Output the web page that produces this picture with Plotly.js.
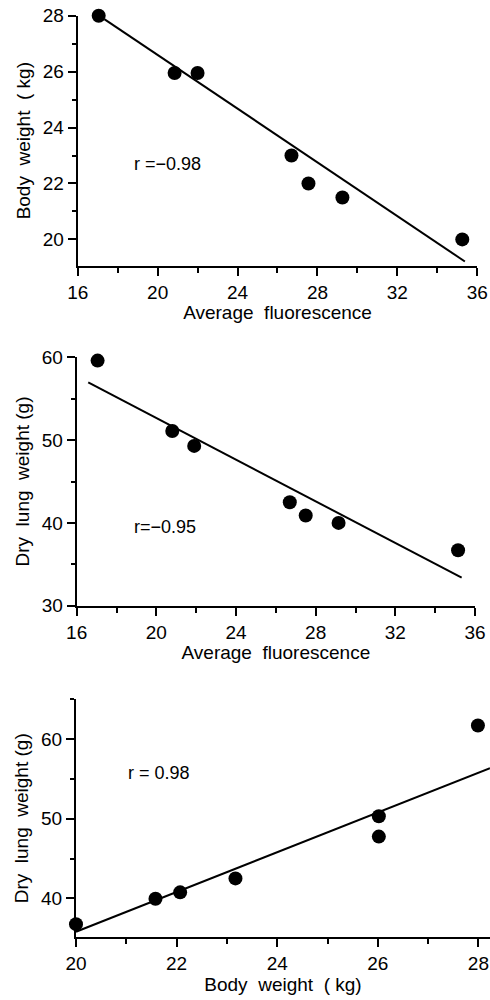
<!DOCTYPE html>
<html>
<head>
<meta charset="utf-8">
<script src="https://cdn.plot.ly/plotly-3.0.1.min.js"></script>
<style>html,body{margin:0;padding:0;background:#fff;}#chart{width:490px;height:1000px;}</style>
</head>
<body>
<div id="chart"></div>
<script>
// Panel 1: body weight vs average fluorescence
const fluor1 = [17.05, 20.85, 22.0, 26.7, 27.55, 29.25, 35.25];
const bodyWeight1 = [28.0, 25.95, 25.95, 23.0, 22.0, 21.5, 20.0];
const fit1X = [17.33, 35.38];
const fit1Y = [27.88, 19.21];

// Panel 2: dry lung weight vs average fluorescence
const fluor2 = [17.05, 20.8, 21.9, 26.7, 27.5, 29.15, 35.15];
const lungWeight2 = [59.6, 51.1, 49.3, 42.5, 40.9, 40.0, 36.7];
const fit2X = [16.58, 35.33];
const fit2Y = [56.98, 33.38];

// Panel 3: dry lung weight vs body weight
const bodyWeight3 = [20.0, 21.58, 22.07, 23.17, 26.02, 26.02, 27.99];
const lungWeight3 = [36.75, 39.95, 40.75, 42.5, 50.3, 47.75, 61.7];
const fit3X = [20.0, 28.23];
const fit3Y = [35.8, 56.35];

const rLabels = ["r =\u22120.98", "r=\u22120.95", "r = 0.98"];
const xTitles = ["Average  fluorescence", "Average  fluorescence", "Body  weight  ( kg)"];
const yTitles = ["Body  weight  ( kg)", "Dry  lung  weight (g)", "Dry  lung  weight (g)"];

const FONT = "Liberation Sans, Arial, sans-serif";
const ink = "#000";

function pts(x, y, xa, ya) {
  return {x: x, y: y, xaxis: xa, yaxis: ya, type: "scatter", mode: "markers",
    cliponaxis: false, marker: {color: ink, size: 14}, showlegend: false, hoverinfo: "skip"};
}
function fit(x, y, xa, ya) {
  return {x: x, y: y, xaxis: xa, yaxis: ya, type: "scatter", mode: "lines",
    line: {color: ink, width: 2}, showlegend: false, hoverinfo: "skip"};
}
function xax(dom, range, dtick, mdtick, title, anchor) {
  return {domain: dom, range: range, anchor: anchor, dtick: dtick, tick0: 0,
    showgrid: false, zeroline: false, showline: true, linecolor: ink, linewidth: 2,
    ticks: "outside", ticklen: 8, tickwidth: 2, tickcolor: ink,
    minor: {dtick: mdtick, ticks: "outside", ticklen: 5, tickwidth: 2, tickcolor: ink, showgrid: false},
    tickfont: {family: FONT, size: 19, color: ink},
    title: {text: title, font: {family: FONT, size: 19, color: ink}, standoff: 3}};
}
function yax(dom, range, dtick, mdtick, title, anchor) {
  return {domain: dom, range: range, anchor: anchor, dtick: dtick, tick0: 0,
    showgrid: false, zeroline: false, showline: true, linecolor: ink, linewidth: 2,
    ticks: "outside", ticklen: 8, tickwidth: 2, tickcolor: ink,
    minor: {dtick: mdtick, ticks: "outside", ticklen: 4, tickwidth: 2, tickcolor: ink, showgrid: false},
    tickfont: {family: FONT, size: 19, color: ink},
    title: {text: title, font: {family: FONT, size: 19, color: ink}, standoff: 7}};
}

const data = [
  fit(fit1X, fit1Y, "x", "y"), pts(fluor1, bodyWeight1, "x", "y"),
  fit(fit2X, fit2Y, "x2", "y2"), pts(fluor2, lungWeight2, "x2", "y2"),
  fit(fit3X, fit3Y, "x3", "y3"), pts(bodyWeight3, lungWeight3, "x3", "y3")
];

const layout = {
  width: 490, height: 1000,
  margin: {l: 0, r: 0, t: 0, b: 0},
  paper_bgcolor: "#fff", plot_bgcolor: "#fff",
  showlegend: false,
  xaxis: xax([0.1586, 0.974], [16, 36], 4, 2, xTitles[0], "y"),
  yaxis: yax([0.7343, 0.9843], [19.06, 28], 2, 1, yTitles[0], "x"),
  xaxis2: xax([0.1565, 0.9694], [16, 36], 4, 2, xTitles[1], "y2"),
  yaxis2: yax([0.3943, 0.6427], [30, 60], 10, 5, yTitles[1], "x2"),
  xaxis3: xax([0.1551, 1.0], [20, 28.23], 2, 1, xTitles[2], "y3"),
  yaxis3: yax([0.0627, 0.3007], [35.1, 65], 10, 5, yTitles[2], "x3"),
  annotations: [
    {xref: "x", yref: "y", x: 18.7, y: 22.7, text: rLabels[0], showarrow: false, xanchor: "left",
     font: {family: FONT, size: 18, color: ink}},
    {xref: "x2", yref: "y2", x: 18.76, y: 39.47, text: rLabels[1], showarrow: false, xanchor: "left",
     font: {family: FONT, size: 18, color: ink}},
    {xref: "x3", yref: "y3", x: 21.0, y: 55.7, text: rLabels[2], showarrow: false, xanchor: "left",
     font: {family: FONT, size: 18, color: ink}}
  ]
};
layout.yaxis3.tickvals = [40, 50, 60];

Plotly.newPlot("chart", data, layout, {staticPlot: true, displayModeBar: false});
</script>
</body>
</html>
